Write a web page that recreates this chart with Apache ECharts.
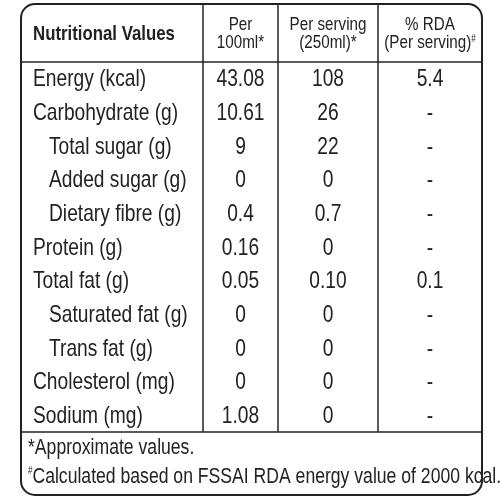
<!DOCTYPE html>
<html>
<head>
<meta charset="utf-8">
<script src="https://cdn.jsdelivr.net/npm/echarts@6/dist/echarts.min.js"></script>
<style>html,body{margin:0;padding:0;background:#fff}#main{width:500px;height:500px}</style>
</head>
<body>
<div id="main"></div>
<script>
// table content
var headers = ['Nutritional Values', 'Per\n100ml*', 'Per serving\n(250ml)*', '% RDA\n(Per serving){s|#}']
var nutrients = ['Energy (kcal)', 'Carbohydrate (g)', 'Total sugar (g)', 'Added sugar (g)', 'Dietary fibre (g)',
  'Protein (g)', 'Total fat (g)', 'Saturated fat (g)', 'Trans fat (g)', 'Cholesterol (mg)', 'Sodium (mg)']
var indent = [0, 0, 1, 1, 1, 0, 0, 1, 1, 0, 0]
var per100 = ['43.08', '10.61', '9', '0', '0.4', '0.16', '0.05', '0', '0', '0', '1.08']
var perServing = ['108', '26', '22', '0', '0.7', '0', '0.10', '0', '0', '0', '0']
var rda = ['5.4', '-', '-', '-', '-', '-', '0.1', '-', '-', '-', '-']
var footnotes = ['*Approximate values.', '{s|#}Calculated based on FSSAI RDA energy value of 2000 kcal.']

// layout (table units = px)
var colX = [21, 203, 278, 378, 482]
var tblTop = 4, headBottom = 62, footTop = 432, tblBottom = 495
var rowH = (footTop - headBottom) / nutrients.length
var font = '"Liberation Sans", sans-serif'
var narrow = 0.8
var rich = {s: {fontSize: 10, verticalAlign: 'top', fill: '#222', padding: [0, 0, 10, 0]}}

var chart = echarts.init(document.getElementById('main'))
var rows = nutrients.map(function (n, i) { return [i, n, indent[i], per100[i], perServing[i], rda[i]] })

function label(pt, text, size, align, extra) {
  var style = {text: text, fill: '#222', font: size + 'px ' + font, align: align, verticalAlign: 'middle', rich: rich}
  if (extra) Object.assign(style, extra)
  return {type: 'group', x: pt[0], y: pt[1], scaleX: narrow, children: [{type: 'text', x: 0, y: 0, style: style}]}
}

function frame(params, api) {
  var p0 = api.coord([colX[0], tblTop]), p1 = api.coord([colX[4], tblBottom])
  var els = [{type: 'rect', shape: {x: p0[0], y: p0[1], width: p1[0] - p0[0], height: p1[1] - p0[1], r: 14},
    style: {fill: 'none', stroke: '#222', lineWidth: 2}}]
  ;[headBottom, footTop].forEach(function (y) {
    var a = api.coord([colX[0], y]), b = api.coord([colX[4], y])
    els.push({type: 'line', shape: {x1: a[0], y1: a[1], x2: b[0], y2: b[1]}, style: {stroke: '#222', lineWidth: 1.5}})
  })
  for (var c = 1; c < 4; c++) {
    var a = api.coord([colX[c], tblTop]), b = api.coord([colX[c], footTop])
    els.push({type: 'line', shape: {x1: a[0], y1: a[1], x2: b[0], y2: b[1]}, style: {stroke: '#222', lineWidth: 1.5}})
  }
  headers.forEach(function (h, c) {
    var cx = c === 0 ? colX[0] + 12 : (colX[c] + colX[c + 1]) / 2
    var pt = api.coord([cx, (tblTop + headBottom) / 2 + 1])
    els.push(label(pt, h, c === 0 ? 21 : 19, c === 0 ? 'left' : 'center',
      c === 0 ? {font: 'bold 21px ' + font} : {lineHeight: 18}))
  })
  footnotes.forEach(function (f, i) {
    var pt = api.coord([colX[0] + 7, footTop + 16 + i * 29])
    els.push(label(pt, f, 22, 'left'))
  })
  return {type: 'group', children: els}
}

function row(params, api) {
  var i = api.value(0)
  var cy = headBottom + rowH * (i + 0.5) + 1
  var els = []
  els.push(label(api.coord([colX[0] + 12 + (rows[i][2] ? 16 : 0), cy]), rows[i][1], 24, 'left'))
  for (var c = 1; c < 4; c++) {
    els.push(label(api.coord([(colX[c] + colX[c + 1]) / 2, cy]), rows[i][2 + c], 24, 'center'))
  }
  return {type: 'group', children: els}
}

chart.setOption({
  animation: false,
  grid: {left: 0, right: 0, top: 0, bottom: 0},
  xAxis: {type: 'value', min: 0, max: 500, show: false},
  yAxis: {type: 'value', min: 0, max: 500, inverse: true, show: false},
  series: [
    {type: 'custom', renderItem: frame, data: [[0]], silent: true},
    {type: 'custom', renderItem: row, data: rows, silent: true}
  ]
})
</script>
</body>
</html>
